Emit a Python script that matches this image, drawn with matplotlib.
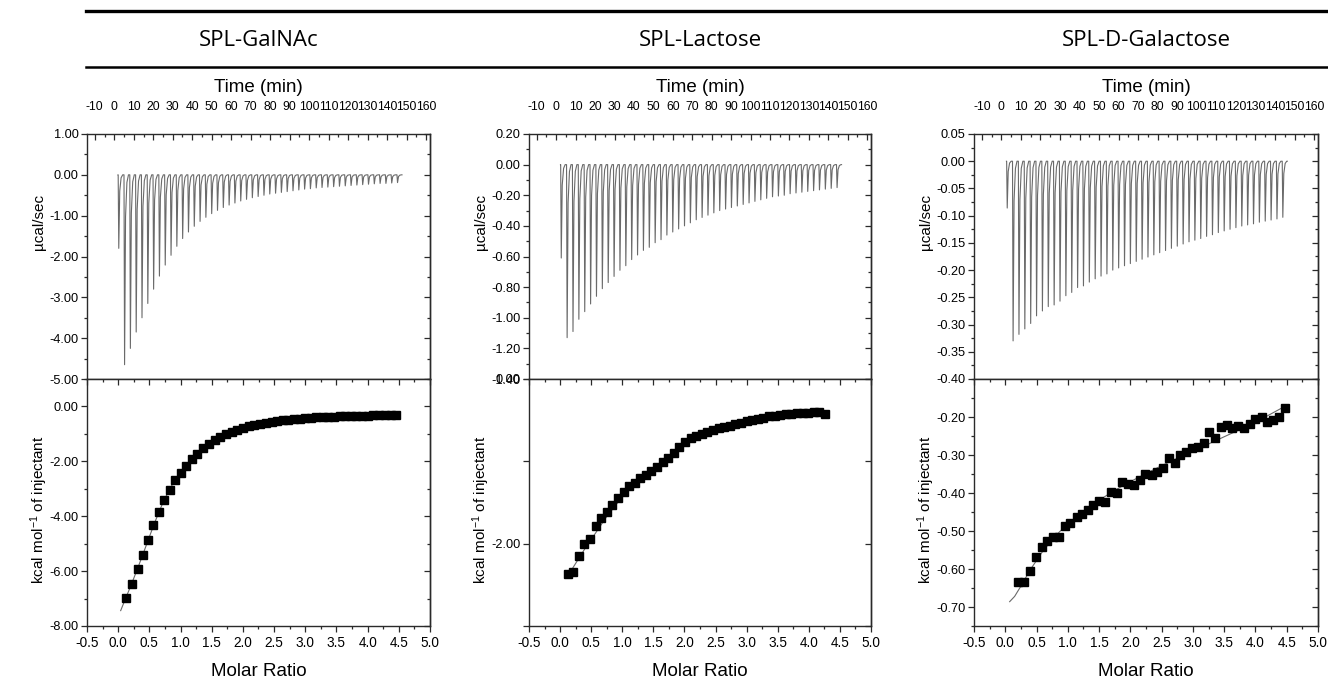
import matplotlib
matplotlib.use("Agg")
import matplotlib.pyplot as plt
import numpy as np
from matplotlib.lines import Line2D
from matplotlib.ticker import (FixedFormatter, FixedLocator, FuncFormatter,
                               MultipleLocator, NullFormatter)

plt.rcParams["font.family"] = ["Liberation Sans", "DejaVu Sans"]
plt.rcParams["mathtext.default"] = "regular"

TITLES = ["SPL-GalNAc", "SPL-Lactose", "SPL-D-Galactose"]

# ---- raw thermograms: injection schedule (min) and peak heights (ucal/sec)
galnac_first_inj = 2.0
galnac_inj_interval = 2.98
galnac_peaks = [-1.80, -4.65, -4.25, -3.85, -3.50, -3.15, -2.80, -2.48, -2.21, -1.97,
                -1.75, -1.56, -1.40, -1.26, -1.14, -1.04, -0.95, -0.87, -0.80, -0.74,
                -0.69, -0.64, -0.60, -0.56, -0.53, -0.50, -0.47, -0.45, -0.43, -0.41,
                -0.39, -0.37, -0.35, -0.34, -0.32, -0.31, -0.30, -0.29, -0.28, -0.27,
                -0.26, -0.25, -0.24, -0.23, -0.22, -0.21, -0.21, -0.20, -0.19]

lactose_first_inj = 2.3
lactose_inj_interval = 3.02
lactose_peaks = [-0.61, -1.13, -1.09, -1.01, -0.96, -0.91, -0.86, -0.81, -0.77, -0.73,
                 -0.69, -0.66, -0.62, -0.59, -0.56, -0.54, -0.51, -0.49, -0.46, -0.44,
                 -0.42, -0.40, -0.38, -0.36, -0.345, -0.33, -0.315, -0.30, -0.29, -0.28,
                 -0.27, -0.26, -0.25, -0.24, -0.23, -0.22, -0.21, -0.205, -0.20, -0.19,
                 -0.185, -0.18, -0.175, -0.17, -0.165, -0.16, -0.155, -0.15]

galactose_first_inj = 2.7
galactose_inj_interval = 3.0
galactose_peaks = [-0.086, -0.330, -0.318, -0.308, -0.298, -0.284, -0.275, -0.267, -0.264, -0.257,
                   -0.247, -0.241, -0.232, -0.229, -0.222, -0.216, -0.211, -0.207, -0.200, -0.196,
                   -0.192, -0.188, -0.184, -0.180, -0.176, -0.172, -0.168, -0.164, -0.160, -0.156,
                   -0.152, -0.148, -0.145, -0.142, -0.138, -0.135, -0.131, -0.128, -0.125, -0.122,
                   -0.119, -0.117, -0.115, -0.112, -0.110, -0.108, -0.106, -0.103]

# ---- integrated heats (kcal/mol of injectant) vs molar ratio
galnac_ratio = [0.13, 0.22, 0.31, 0.39, 0.48, 0.56, 0.65, 0.74, 0.83, 0.91,
                1.00, 1.09, 1.18, 1.27, 1.36, 1.46, 1.55, 1.64, 1.73, 1.82,
                1.91, 2.00, 2.09, 2.18, 2.27, 2.37, 2.46, 2.55, 2.64, 2.73,
                2.82, 2.91, 3.00, 3.09, 3.18, 3.28, 3.37, 3.46, 3.55, 3.64,
                3.73, 3.82, 3.91, 4.00, 4.09, 4.19, 4.28, 4.37, 4.46]
galnac_heat = [-6.98, -6.47, -5.94, -5.42, -4.87, -4.33, -3.85, -3.42, -3.05, -2.69,
               -2.41, -2.18, -1.93, -1.72, -1.53, -1.37, -1.23, -1.11, -1.01, -0.92,
               -0.85, -0.78, -0.72, -0.67, -0.63, -0.59, -0.56, -0.53, -0.50, -0.48,
               -0.46, -0.44, -0.42, -0.41, -0.40, -0.39, -0.38, -0.37, -0.36, -0.355,
               -0.35, -0.34, -0.335, -0.33, -0.325, -0.32, -0.31, -0.305, -0.30]
galnac_fit_ratio = [0.04, 0.10, 0.20, 0.30, 0.40, 0.50, 0.60, 0.70, 0.80, 0.90, 1.00,
                    1.20, 1.40, 1.60, 1.80, 2.00, 2.50, 3.00, 3.50, 4.00, 4.46]
galnac_fit_heat = [-7.44, -7.10, -6.55, -5.97, -5.37, -4.75, -4.15, -3.60, -3.12, -2.72, -2.40,
                   -1.88, -1.50, -1.20, -0.99, -0.80, -0.56, -0.43, -0.37, -0.33, -0.30]

lactose_ratio = [0.12, 0.21, 0.30, 0.39, 0.48, 0.57, 0.66, 0.75, 0.84, 0.93,
                 1.02, 1.11, 1.20, 1.29, 1.38, 1.47, 1.56, 1.65, 1.74, 1.83,
                 1.92, 2.01, 2.10, 2.19, 2.28, 2.37, 2.46, 2.55, 2.64, 2.73,
                 2.82, 2.91, 3.00, 3.09, 3.18, 3.27, 3.36, 3.45, 3.54, 3.63,
                 3.72, 3.81, 3.90, 3.99, 4.08, 4.17, 4.26]
lactose_heat = [-2.37, -2.35, -2.15, -2.01, -1.94, -1.78, -1.69, -1.61, -1.53, -1.45,
                -1.37, -1.30, -1.26, -1.20, -1.16, -1.12, -1.07, -1.01, -0.96, -0.90,
                -0.83, -0.76, -0.72, -0.69, -0.67, -0.645, -0.62, -0.60, -0.58, -0.565,
                -0.55, -0.53, -0.51, -0.50, -0.485, -0.47, -0.455, -0.445, -0.435, -0.43,
                -0.42, -0.415, -0.41, -0.41, -0.40, -0.40, -0.42]
lactose_fit_ratio = [0.12, 0.20, 0.30, 0.40, 0.50, 0.75, 1.00, 1.25, 1.50, 2.00,
                     2.50, 3.00, 3.50, 4.00, 4.26]
lactose_fit_heat = [-2.38, -2.30, -2.18, -2.06, -1.95, -1.67, -1.43, -1.25, -1.10, -0.80,
                    -0.62, -0.52, -0.45, -0.41, -0.40]

galactose_ratio = [0.21, 0.30, 0.39, 0.49, 0.58, 0.67, 0.77, 0.86, 0.95, 1.04,
                   1.14, 1.23, 1.32, 1.41, 1.50, 1.60, 1.69, 1.78, 1.87, 1.97,
                   2.06, 2.15, 2.24, 2.34, 2.43, 2.52, 2.61, 2.71, 2.80, 2.89,
                   2.98, 3.08, 3.17, 3.26, 3.35, 3.45, 3.54, 3.63, 3.72, 3.82,
                   3.91, 4.00, 4.10, 4.19, 4.28, 4.38, 4.47]
galactose_heat = [-0.633, -0.633, -0.605, -0.568, -0.541, -0.527, -0.517, -0.515, -0.488, -0.478,
                  -0.462, -0.455, -0.445, -0.432, -0.421, -0.423, -0.397, -0.401, -0.372, -0.377,
                  -0.380, -0.366, -0.350, -0.353, -0.345, -0.335, -0.309, -0.322, -0.300, -0.291,
                  -0.281, -0.278, -0.269, -0.239, -0.256, -0.226, -0.222, -0.230, -0.224, -0.230,
                  -0.219, -0.205, -0.199, -0.212, -0.208, -0.199, -0.175]
galactose_fit_ratio = [0.07, 0.15, 0.25, 0.40, 0.60, 0.80, 1.00, 1.25, 1.50, 1.75,
                       2.00, 2.50, 3.00, 3.50, 4.00, 4.47]
galactose_fit_heat = [-0.686, -0.672, -0.645, -0.602, -0.553, -0.513, -0.481, -0.448, -0.419, -0.393,
                      -0.370, -0.328, -0.290, -0.252, -0.214, -0.172]

# ---- axis settings per panel
upper_ylim = [(-5.0, 1.0), (-1.4, 0.2), (-0.4, 0.05)]
upper_major = [1.0, 0.2, 0.05]
upper_minor = [0.5, 0.1, 0.025]
lower_ylim = [(-8.0, 1.0), (-3.0, 0.0), (-0.75, -0.1)]
lower_ticks = [[-8, -6, -4, -2, 0], [-3, -2, -1, 0], [-0.7, -0.6, -0.5, -0.4, -0.3, -0.2]]
lower_labels = [["-8.00", "-6.00", "-4.00", "-2.00", "0.00"],
                ["", "-2.00", "", "0.00"],
                ["-0.70", "-0.60", "-0.50", "-0.40", "-0.30", "-0.20"]]
lower_minor = [1.0, None, 0.05]

TIME_LIM = (-14, 162)
RATIO_LIM = (-0.5, 5.0)

W, H = 1328, 682
PANEL_LEFT = [87, 529, 974]
PANEL_WIDTH = [343, 342, 344]
UPPER_TOP, MID, LOWER_BOTTOM = 134, 379, 626

TRACE = "#6a6a6a"
SPINE = "#2a2a2a"


def thermogram(first, interval, peaks):
    t = [first - 0.1]
    y = [0.0]
    for i, p in enumerate(peaks):
        t0 = first + i * interval
        t += [t0, t0 + 0.3, t0 + 0.8, t0 + 1.5, t0 + 2.3]
        y += [0.0, p, 0.22 * p, 0.04 * p, 0.0]
    t.append(first + (len(peaks) - 1) * interval + 2.6)
    y.append(0.0)
    return t, y


def fmt2(v, _pos):
    return f"{round(v, 6) + 0.0:.2f}"


def style_common(ax):
    for s in ax.spines.values():
        s.set_color(SPINE)
        s.set_linewidth(1.0)
    ax.tick_params(which="both", colors=SPINE, width=0.9, labelcolor="black")
    ax.tick_params(which="major", length=4.2)
    ax.tick_params(which="minor", length=2.4)


def inner_y(ax, major, minor):
    sec = ax.secondary_yaxis("right")
    sec.yaxis.set_major_locator(major)
    if minor is not None:
        sec.yaxis.set_minor_locator(minor)
    sec.yaxis.set_major_formatter(NullFormatter())
    sec.tick_params(which="both", direction="in", colors=SPINE, width=0.9)
    sec.tick_params(which="major", length=4.2)
    sec.tick_params(which="minor", length=2.4)
    sec.spines["right"].set_color(SPINE)
    sec.spines["right"].set_linewidth(1.0)


def inner_x_top(ax, major, minor):
    sec = ax.secondary_xaxis("top")
    sec.xaxis.set_major_locator(major)
    sec.xaxis.set_minor_locator(minor)
    sec.xaxis.set_major_formatter(NullFormatter())
    sec.tick_params(which="both", direction="in", colors=SPINE, width=0.9)
    sec.tick_params(which="major", length=4.2)
    sec.tick_params(which="minor", length=2.4)
    sec.spines["top"].set_color(SPINE)


def main():
    fig = plt.figure(figsize=(W / 100, H / 100), dpi=100)

    traces = [(galnac_first_inj, galnac_inj_interval, galnac_peaks),
              (lactose_first_inj, lactose_inj_interval, lactose_peaks),
              (galactose_first_inj, galactose_inj_interval, galactose_peaks)]
    heats = [(galnac_ratio, galnac_heat, galnac_fit_ratio, galnac_fit_heat),
             (lactose_ratio, lactose_heat, lactose_fit_ratio, lactose_fit_heat),
             (galactose_ratio, galactose_heat, galactose_fit_ratio, galactose_fit_heat)]

    # header rules
    fig.add_artist(Line2D([86 / W, 1.0], [1 - 11 / H] * 2, transform=fig.transFigure,
                          color="black", lw=2.4))
    fig.add_artist(Line2D([86 / W, 1.0], [1 - 67 / H] * 2, transform=fig.transFigure,
                          color="black", lw=1.8))

    for k in range(3):
        left = PANEL_LEFT[k] / W
        width = PANEL_WIDTH[k] / W
        up = fig.add_axes([left, 1 - MID / H, width, (MID - UPPER_TOP) / H])
        lo = fig.add_axes([left, 1 - LOWER_BOTTOM / H, width, (LOWER_BOTTOM - MID) / H])

        fig.text(left + width / 2, 1 - 40 / H, TITLES[k], ha="center", va="center",
                 fontsize=16, family=["Open Sans", "DejaVu Sans"])

        # ---- upper panel: raw heat flow vs time
        t, y = thermogram(*traces[k])
        up.plot(t, y, color=TRACE, lw=0.8)
        up.set_xlim(*TIME_LIM)
        up.set_ylim(*upper_ylim[k])
        style_common(up)
        up.xaxis.set_major_locator(FixedLocator(np.arange(-10, 161, 10)))
        up.xaxis.set_minor_locator(FixedLocator(np.arange(-10, 161, 5)))
        up.xaxis.set_major_formatter(FuncFormatter(lambda v, _p: f"{int(round(v))}"))
        up.tick_params(axis="x", which="both", direction="in", top=True, bottom=False,
                       labeltop=True, labelbottom=False, labelsize=8.8, pad=15)
        up.yaxis.set_major_locator(MultipleLocator(upper_major[k]))
        up.yaxis.set_minor_locator(MultipleLocator(upper_minor[k]))
        up.yaxis.set_major_formatter(FuncFormatter(fmt2))
        up.tick_params(axis="y", which="both", direction="out", left=True, right=False,
                       labelsize=9.2, pad=2)
        inner_y(up, MultipleLocator(upper_major[k]), MultipleLocator(upper_minor[k]))
        up.text(0.5, (MID - 88) / (MID - UPPER_TOP), "Time (min)", transform=up.transAxes,
                ha="center", va="center", fontsize=13.5)
        up.set_ylabel("µcal/sec", fontsize=11, va="center")
        up.yaxis.set_label_coords(-48 / PANEL_WIDTH[k], 0.64)

        # ---- lower panel: integrated heats vs molar ratio
        ratio, heat, fit_r, fit_h = heats[k]
        lo.plot(fit_r, fit_h, color=TRACE, lw=0.8, zorder=2)
        lo.plot(ratio, heat, ls="none", marker="s", ms=5.5, color="black", zorder=3)
        lo.set_xlim(*RATIO_LIM)
        lo.set_ylim(*lower_ylim[k])
        style_common(lo)
        lo.xaxis.set_major_locator(MultipleLocator(0.5))
        lo.xaxis.set_minor_locator(MultipleLocator(0.25))
        lo.xaxis.set_major_formatter(FuncFormatter(lambda v, _p: f"{round(v, 6) + 0.0:.1f}"))
        lo.tick_params(axis="x", which="both", direction="out", top=False, bottom=True,
                       labelsize=9.8, pad=3)
        lo.yaxis.set_major_locator(FixedLocator(lower_ticks[k]))
        lo.yaxis.set_major_formatter(FixedFormatter(lower_labels[k]))
        if lower_minor[k] is not None:
            lo.yaxis.set_minor_locator(MultipleLocator(lower_minor[k]))
        lo.tick_params(axis="y", which="both", direction="out", left=True, right=False,
                       labelsize=9.2, pad=2)
        inner_y(lo, FixedLocator(lower_ticks[k]),
                MultipleLocator(lower_minor[k]) if lower_minor[k] is not None else None)
        inner_x_top(lo, MultipleLocator(0.5), MultipleLocator(0.25))
        lo.set_xlabel("Molar Ratio", fontsize=13.5, va="center")
        lo.xaxis.set_label_coords(0.5, -(672 - LOWER_BOTTOM) / (LOWER_BOTTOM - MID))
        lo.set_ylabel("kcal mol$^{-1}$ of injectant", fontsize=11, va="center")
        lo.yaxis.set_label_coords(-48 / PANEL_WIDTH[k], 0.47)

    fig.savefig("out.png", dpi=100)
    plt.close(fig)


if __name__ == "__main__":
    main()
